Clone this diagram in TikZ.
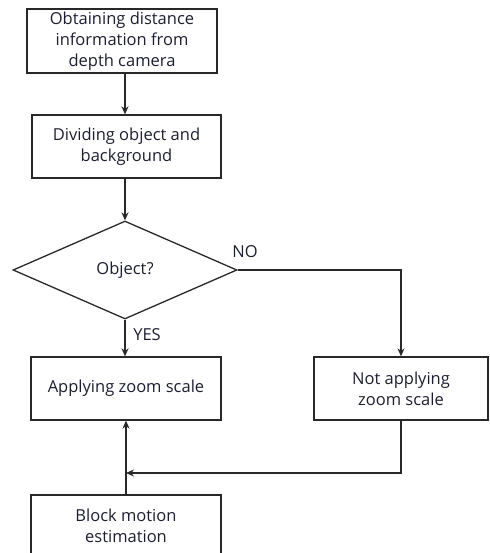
\documentclass[tikz,border=0pt]{standalone}
\usepackage{fontspec}
\setmainfont{Open Sans}
\usetikzlibrary{shapes.geometric,arrows.meta}
\definecolor{ln}{RGB}{40,40,40}
\definecolor{tx}{RGB}{30,30,50}
\begin{document}
\begin{tikzpicture}[x=1pt,y=-1pt,
  box/.style={draw=ln,line width=1.3pt,rectangle,inner sep=0pt,align=center,text=tx,
    font=\fontsize{16.5}{21}\selectfont},
  dec/.style={draw=ln,line width=1.3pt,diamond,inner sep=0pt,text=tx,
    font=\fontsize{16.5}{21}\selectfont,minimum width=224pt,minimum height=98pt,aspect=2.29},
  lbl/.style={text=tx,font=\fontsize{16.5}{21}\selectfont,inner sep=0pt},
  arr/.style={draw=ln,line width=1.3pt,-{Stealth[length=8pt,width=7pt]}},
  con/.style={draw=ln,line width=1.3pt}]
\useasboundingbox (0,0) rectangle (489,553);
\clip (0,0) rectangle (489,553);
\node[box,minimum width=190pt,minimum height=64pt] (b1) at (122,41) {Obtaining distance\\information from\\depth camera};
\node[box,minimum width=189pt,minimum height=63pt] (b2) at (126.5,146.5) {Dividing object and\\background};
\node[dec] (d) at (125,270) {Object?};
\node[box,minimum width=190pt,minimum height=63pt] (b3) at (126,388.5) {Applying zoom scale};
\node[box,minimum width=174pt,minimum height=63pt] (b4) at (401,388.5) {Not applying\\zoom scale};
\node[box,minimum width=190pt,minimum height=62pt] (b5) at (126,526) {Block motion\\estimation};
\node[lbl] (no) at (245,252) {NO};
\node[lbl] (yes) at (147,335) {YES};
\coordinate (m) at (126,473);
\draw[arr] (d.north |- b1.south) -- (d.north |- b2.north);
\draw[arr] (d.north |- b2.south) -- (d.north);
\draw[arr] (d.east) -| (b4.north);
\draw[arr] (d.south) -- (d.south |- b3.north);
\draw[arr] (b4.south) |- (m);
\draw[arr] (b5.north) -- (b3.south);
\end{tikzpicture}
\end{document}
